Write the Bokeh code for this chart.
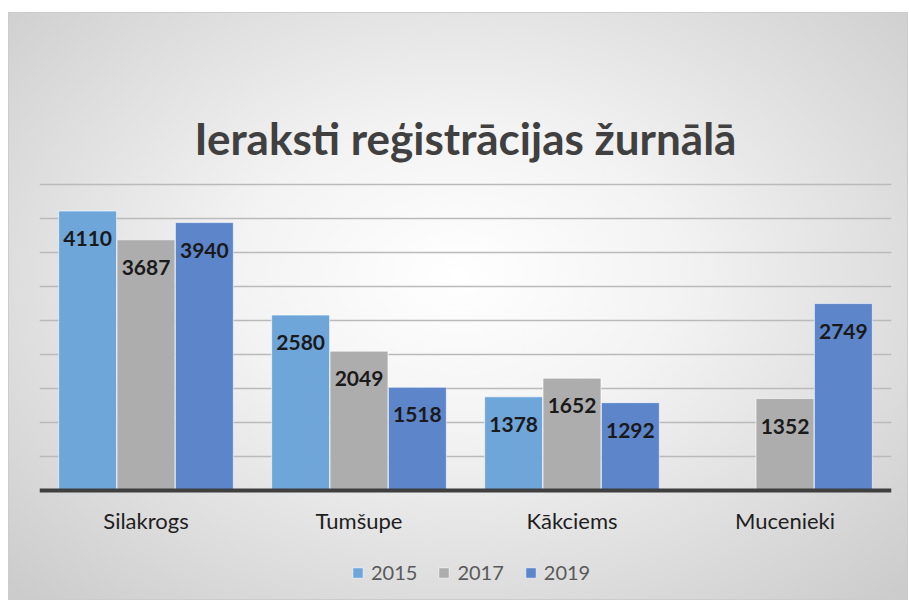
from bokeh.plotting import figure
from bokeh.models import ColumnDataSource, LabelSet, Label, Legend, LegendItem, FactorRange, Range1d, FixedTicker, Span
from bokeh.transform import dodge
from bokeh.core.properties import value
from bokeh.embed import file_html
from bokeh.resources import INLINE

categories = ["Silakrogs", "Tumšupe", "Kākciems", "Mucenieki"]
years = ["2015", "2017", "2019"]
values_2015 = [4110, 2580, 1378, None]
values_2017 = [3687, 2049, 1652, 1352]
values_2019 = [3940, 1518, 1292, 2749]
colors = ["#6fa6da", "#adadad", "#5d85ca"]
title_text = "Ieraksti reģistrācijas žurnālā"
y_max = 4500
grid_step = 500

FONT = "Lato"

# frame spans full height; extra room below 0 and above y_max holds labels, legend and title
p = figure(width=900, height=588, x_range=FactorRange(factors=categories), y_range=Range1d(-1632, 7015),
           output_backend="svg", toolbar_location=None,
           min_border_left=30, min_border_right=18, min_border_top=0, min_border_bottom=0)
p.styles = {"background": "radial-gradient(ellipse 70% 75% at 50% 45%, #ffffff 0%, #f3f3f3 35%, #cccccc 100%)",
            "border": "1px solid #cccccc", "box-sizing": "border-box",
            "margin-left": "8px", "margin-top": "12px"}
p.border_fill_alpha = 0
p.background_fill_alpha = 0
p.outline_line_alpha = 0

p.axis.visible = False
p.xgrid.visible = False
p.ygrid.ticker = FixedTicker(ticks=list(range(grid_step, y_max + 1, grid_step)))
p.ygrid.grid_line_color = "#bababa"
p.ygrid.grid_line_width = 1.3

series = [values_2015, values_2017, values_2019]
offsets = [-0.274, 0.0, 0.274]
bar_w = 0.272
items = []
for yr, vals, col, off in zip(years, series, colors, offsets):
    cats = [c for c, v in zip(categories, vals) if v is not None]
    vs = [v for v in vals if v is not None]
    src = ColumnDataSource(dict(cat=cats, val=vs, txt=[str(v) for v in vs]))
    r = p.vbar(x=dodge("cat", off, range=p.x_range), top="val", width=bar_w, source=src,
               fill_color=col, line_color="#ffffff", line_alpha=0.6, line_width=1)
    items.append(LegendItem(label=yr, renderers=[r]))
    p.add_layout(LabelSet(x=dodge("cat", off, range=p.x_range), y="val", text="txt", source=src,
                          y_offset=-35, text_baseline="alphabetic", text_align="center",
                          text_font=value(FONT), text_font_style="bold", text_font_size="21px",
                          text_color="#1a1a1a"))

# baseline (category axis line)
p.add_layout(Span(location=0, dimension="width", line_color="#3f3f3f", line_width=4))

# category labels
cat_src = ColumnDataSource(dict(cat=categories, y0=[0] * len(categories)))
p.add_layout(LabelSet(x="cat", y="y0", text="cat", source=cat_src, y_offset=-38,
                      text_baseline="alphabetic", text_align="center",
                      text_font=value(FONT), text_font_size="22px", text_color="#1f1f1f"))

legend = Legend(items=items, orientation="horizontal", location=(312, 17))
legend.label_text_font = FONT
legend.label_text_font_size = "20px"
legend.label_text_color = "#595959"
legend.glyph_width = 13
legend.glyph_height = 13
legend.label_standoff = 7
legend.spacing = 20
legend.padding = 0
legend.border_line_alpha = 0
legend.background_fill_alpha = 0
p.add_layout(legend)

p.add_layout(Label(x=2, y=5191, text=title_text, text_align="center",
                   text_baseline="alphabetic", text_font=FONT, text_font_style="bold",
                   text_font_size="44px", text_color="#404040"))

open("out.html", "w").write(file_html(p, INLINE))
